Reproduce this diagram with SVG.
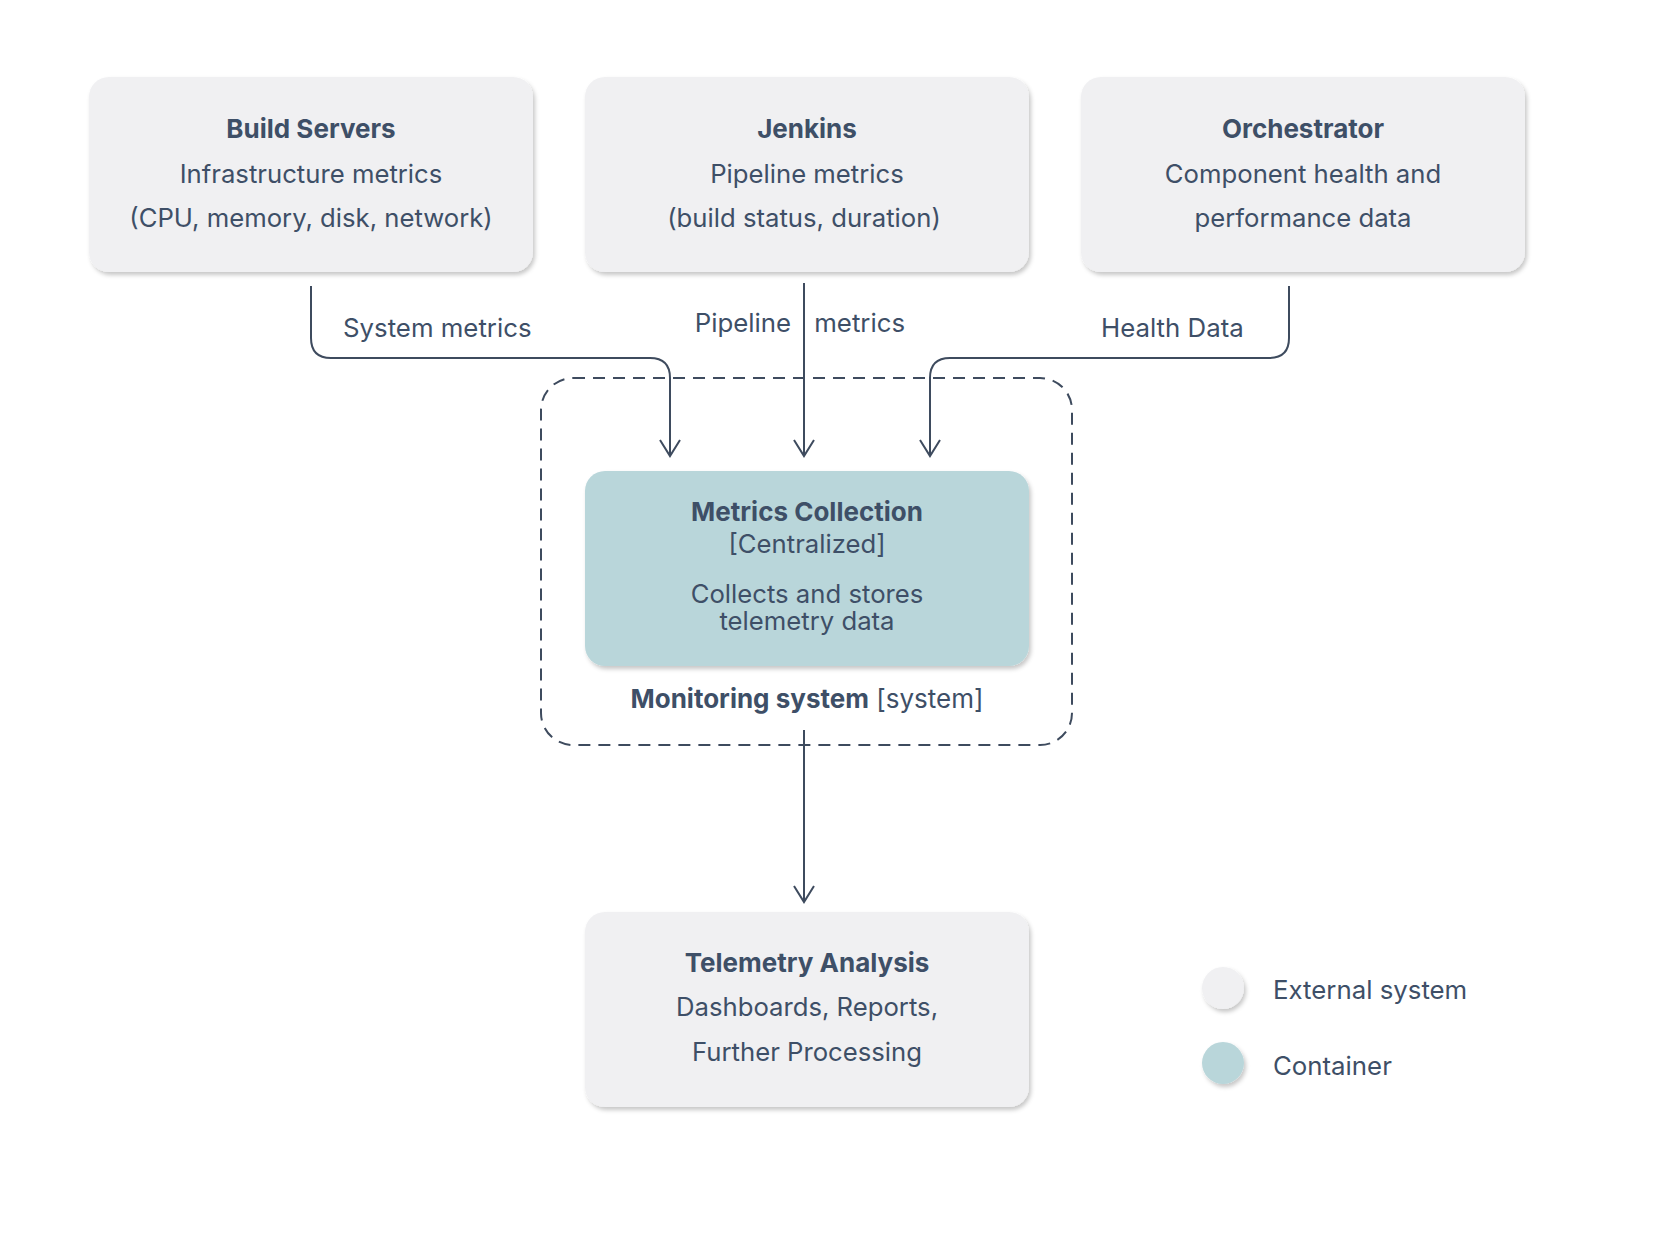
<svg xmlns="http://www.w3.org/2000/svg" width="1674" height="1240" viewBox="0 0 1674 1240">
<style>
  text { font-family: "Inter", "Noto Sans", sans-serif; fill: #3e4f67; }
  .t { font-size: 26px; font-weight: 700; text-anchor: middle; }
  .d { font-size: 25.7px; text-anchor: middle; }
  .lbl { font-size: 25.8px; }
  .ext { fill: #f0f0f2; filter: url(#sh); }
  .cont { fill: #b9d6da; filter: url(#sh); }
  .conn { fill: none; stroke: #3e4b5e; stroke-width: 2; marker-end: url(#arr); }
</style>
<defs>
  <filter id="sh" x="-10%" y="-10%" width="125%" height="130%">
    <feDropShadow dx="2" dy="3" stdDeviation="2" flood-color="#000" flood-opacity="0.22"/>
  </filter>
  <marker id="arr" viewBox="0 0 20 24" refX="18" refY="12" markerWidth="20" markerHeight="24" markerUnits="userSpaceOnUse" orient="auto">
    <path d="M2,2 L18,12 L2,22" fill="none" stroke="#3e4b5e" stroke-width="2"/>
  </marker>
</defs>
<rect width="1674" height="1240" fill="#ffffff"/>

<g id="monitoring-system">
  <rect x="541" y="378" width="531" height="367" rx="32" fill="none" stroke="#3e4b5e" stroke-width="2" stroke-dasharray="12 8"/>
  <text x="807" y="708" font-size="26px" text-anchor="middle"><tspan font-weight="700">Monitoring system</tspan> [system]</text>
</g>

<g id="build-servers">
  <rect class="ext" x="89" y="77" width="444" height="195" rx="20"/>
  <text class="t" x="311" y="138">Build Servers</text>
  <text class="d" x="311" y="183">Infrastructure metrics</text>
  <text class="d" x="311" y="227">(CPU, memory, disk, network)</text>
</g>

<g id="jenkins">
  <rect class="ext" x="585" y="77" width="444" height="195" rx="20"/>
  <text class="t" x="807" y="138">Jenkins</text>
  <text class="d" x="807" y="183">Pipeline metrics</text>
  <text class="d" x="804" y="227">(build status, duration)</text>
</g>

<g id="orchestrator">
  <rect class="ext" x="1081" y="77" width="444" height="195" rx="20"/>
  <text class="t" x="1303" y="138">Orchestrator</text>
  <text class="d" x="1303" y="183">Component health and</text>
  <text class="d" x="1303" y="227">performance data</text>
</g>

<g id="metrics-collection">
  <rect class="cont" x="585" y="471" width="444" height="195" rx="20"/>
  <text class="t" x="807" y="521">Metrics Collection</text>
  <text class="d" x="807" y="553">[Centralized]</text>
  <text class="d" x="807" y="603">Collects and stores</text>
  <text class="d" x="807" y="630">telemetry data</text>
</g>

<g id="telemetry-analysis">
  <rect class="ext" x="585" y="912" width="444" height="195" rx="20"/>
  <text class="t" x="807" y="972">Telemetry Analysis</text>
  <text class="d" x="807" y="1016">Dashboards, Reports,</text>
  <text class="d" x="807" y="1061">Further Processing</text>
</g>

<g id="connectors">
  <path class="conn" d="M311,286 V338 Q311,358 331,358 H650 Q670,358 670,378 V456"/>
  <path class="conn" d="M804,283 V456"/>
  <path class="conn" d="M1289,286 V338 Q1289,358 1269,358 H950 Q930,358 930,378 V456"/>
  <path class="conn" d="M804,730 V902"/>
  <text class="lbl" x="343" y="337">System metrics</text>
  <text class="lbl" y="332"><tspan x="791" text-anchor="end">Pipeline</tspan><tspan x="807"> metrics</tspan></text>
  <text class="lbl" x="1101" y="337">Health Data</text>
</g>

<g id="legend">
  <circle cx="1223" cy="988" r="21" class="ext"/>
  <text class="lbl" x="1273" y="999">External system</text>
  <circle cx="1223" cy="1063" r="21" class="cont"/>
  <text class="lbl" x="1273" y="1075">Container</text>
</g>
</svg>
